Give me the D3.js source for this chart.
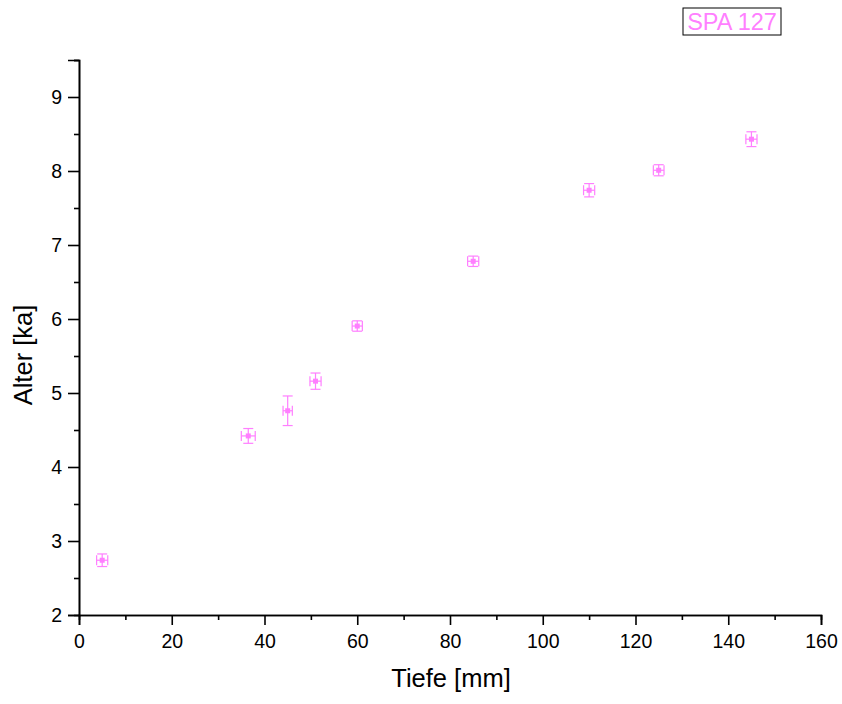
<!DOCTYPE html>
<html><head><meta charset="utf-8">
<script src="https://cdn.jsdelivr.net/npm/d3@7"></script>
<style>body{margin:0;background:#fff;}svg{display:block;font-family:"Liberation Sans",Arial,sans-serif;}</style>
</head><body><svg id="c" width="842" height="704"></svg>
<script>
const depth = [5, 36.5, 45, 51, 60, 85, 110, 125, 145];
const age = [2.74, 4.42, 4.76, 5.16, 5.905, 6.78, 7.74, 8.01, 8.43];
const depthErr = [1.2, 1.5, 1.0, 1.2, 1.1, 1.2, 1.2, 1.15, 1.2];
const ageErr = [0.085, 0.10, 0.20, 0.11, 0.07, 0.07, 0.09, 0.075, 0.10];
const xTicks = [0, 20, 40, 60, 80, 100, 120, 140, 160];
const yTicks = [2, 3, 4, 5, 6, 7, 8, 9];
const seriesName = "SPA 127";
const color = "#ff7fff";

const svg = d3.select("#c");
const x = d3.scaleLinear().domain([0, 160]).range([79, 821]);
const y = d3.scaleLinear().domain([2, 9.5]).range([615, 60]);
const FONT = "Liberation Sans, Arial, sans-serif";

// x axis
const gx = svg.append("g").attr("transform", "translate(0,615)");
gx.call(d3.axisBottom(x).tickValues(d3.range(10, 160, 20)).tickSize(5).tickFormat(""));
gx.call(g => g.append("g").call(d3.axisBottom(x).tickValues(xTicks).tickSize(10).tickPadding(9).tickFormat(d3.format("d"))));
gx.selectAll(".domain").attr("stroke", "#000").attr("stroke-width", 1.6);
gx.selectAll("line").attr("stroke", "#000").attr("stroke-width", 1.6);
gx.selectAll("text").attr("font-size", 19.5).attr("fill", "#000").attr("font-family", FONT);

// y axis
const gy = svg.append("g").attr("transform", "translate(79,0)");
gy.call(d3.axisLeft(y).tickValues(d3.range(2.5, 9.6, 1)).tickSize(5).tickFormat(""));
gy.call(g => g.append("g").call(d3.axisLeft(y).tickValues(yTicks).tickSize(11).tickPadding(6).tickFormat(d3.format("d"))));
gy.selectAll(".domain").attr("stroke", "#000").attr("stroke-width", 1.6);
gy.selectAll("line").attr("stroke", "#000").attr("stroke-width", 1.6);
gy.selectAll("text").attr("font-size", 19.5).attr("fill", "#000").attr("font-family", FONT);

// axis titles
svg.append("text").attr("x", 451).attr("y", 687).attr("text-anchor", "middle")
  .attr("font-size", 25.5).attr("font-family", FONT).text("Tiefe [mm]");
svg.append("text").attr("transform", "translate(32,355) rotate(-90)").attr("text-anchor", "middle")
  .attr("font-size", 25.5).attr("font-family", FONT).text("Alter [ka]");

// data
const data = depth.map((d, i) => ({x: d, y: age[i], ex: depthErr[i], ey: ageErr[i]}));
const pts = svg.append("g").attr("stroke", color).attr("stroke-width", 1.2).attr("fill", "none");
data.forEach(d => {
  const px = x(d.x), py = y(d.y);
  const x0 = x(d.x - d.ex), x1 = x(d.x + d.ex);
  const y0 = y(d.y + d.ey), y1 = y(d.y - d.ey);
  const cap = 5;
  pts.append("line").attr("x1", px).attr("x2", px).attr("y1", y0).attr("y2", y1);
  pts.append("line").attr("x1", px - cap).attr("x2", px + cap).attr("y1", y0).attr("y2", y0);
  pts.append("line").attr("x1", px - cap).attr("x2", px + cap).attr("y1", y1).attr("y2", y1);
  pts.append("line").attr("x1", x0).attr("x2", x1).attr("y1", py).attr("y2", py);
  pts.append("line").attr("x1", x0).attr("x2", x0).attr("y1", py - cap).attr("y2", py + cap);
  pts.append("line").attr("x1", x1).attr("x2", x1).attr("y1", py - cap).attr("y2", py + cap);
  pts.append("rect").attr("x", px - 2.5).attr("y", py - 2.5).attr("width", 5).attr("height", 5)
    .attr("fill", color).attr("stroke", "none");
});

// legend
svg.append("rect").attr("x", 683).attr("y", 8).attr("width", 98).attr("height", 27)
  .attr("fill", "#fff").attr("stroke", "#000").attr("stroke-width", 1);
svg.append("text").attr("x", 732).attr("y", 30).attr("text-anchor", "middle")
  .attr("font-size", 23.5).attr("font-family", FONT).attr("fill", color).text(seriesName);
</script></body></html>
